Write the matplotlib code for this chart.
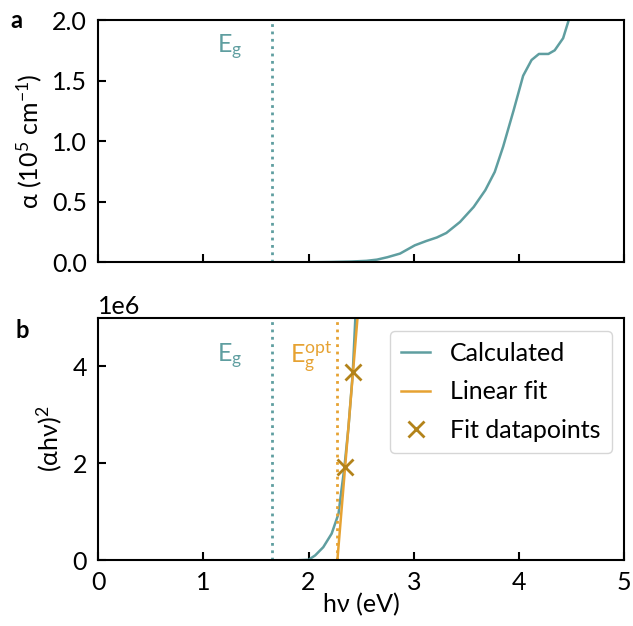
import numpy as np
import matplotlib
matplotlib.use('Agg')
import matplotlib.pyplot as plt

# absorption coefficient (1e5 cm^-1)
energy_a = [2.0, 2.2, 2.4, 2.55, 2.65, 2.75, 2.87, 3.01, 3.12, 3.22, 3.31, 3.44,
            3.57, 3.68, 3.77, 3.85, 3.95, 4.04, 4.12, 4.19, 4.28, 4.34, 4.42,
            4.47, 4.55]
alpha = [0.0, 0.002, 0.006, 0.012, 0.022, 0.042, 0.072, 0.14, 0.176, 0.205,
         0.242, 0.333, 0.457, 0.595, 0.746, 0.955, 1.256, 1.54, 1.67, 1.72,
         1.72, 1.75, 1.85, 1.99, 2.3]

# (alpha h nu)^2
energy_b = [1.9, 2.0, 2.063, 2.14, 2.22, 2.285, 2.31, 2.34, 2.38, 2.42, 2.445, 2.47]
tauc = [0.0, 0.01e6, 0.10e6, 0.27e6, 0.55e6, 0.96e6, 1.4e6, 1.9e6, 2.75e6,
        3.85e6, 5.0e6, 5.8e6]

fit_x = [2.348, 2.423]
fit_y = [1.93e6, 3.89e6]

Eg = 1.654

TEAL = '#5F9EA0'
ORANGE = '#E6A232'
DARKGOLD = '#B3831A'

plt.rcParams['font.family'] = ['Lato', 'DejaVu Sans']
plt.rcParams['mathtext.fontset'] = 'custom'
plt.rcParams['mathtext.rm'] = 'Lato'
plt.rcParams['mathtext.it'] = 'Lato'
plt.rcParams['font.size'] = 18
plt.rcParams['axes.linewidth'] = 1.5
plt.rcParams['xtick.direction'] = 'in'
plt.rcParams['ytick.direction'] = 'in'
plt.rcParams['xtick.major.width'] = 1.5
plt.rcParams['ytick.major.width'] = 1.5
plt.rcParams['xtick.major.size'] = 6
plt.rcParams['ytick.major.size'] = 6
plt.rcParams['xtick.major.pad'] = 8
plt.rcParams['ytick.major.pad'] = 8

fig = plt.figure(figsize=(6.33, 6.26), dpi=100)
ax1 = fig.add_axes([0.155, 0.581, 0.831, 0.387])
ax2 = fig.add_axes([0.155, 0.105, 0.831, 0.387])

# panel a
ax1.plot(energy_a, alpha, color=TEAL, lw=1.8)
ax1.axvline(Eg, color=TEAL, ls=':', lw=2)
ax1.text(1.13, 1.727, r'E$_\mathrm{g}$', color=TEAL, fontsize=18, ha='left', va='baseline')
ax1.set_xlim(0, 5)
ax1.set_ylim(0, 2.0)
ax1.set_yticks([0, 0.5, 1.0, 1.5, 2.0])
ax1.set_xticks([0, 1, 2, 3, 4, 5])
ax1.tick_params(labelbottom=False)
ax1.set_ylabel(r'α (10$^5$ cm$^{-1}$)', labelpad=6)

# panel b
slope, icpt = np.polyfit(fit_x, fit_y, 1)
Eg_opt = -icpt / slope
xline = np.array([Eg_opt, 2.6])

ax2.plot(energy_b, tauc, color=TEAL, lw=1.8, label='Calculated')
ax2.plot(xline, slope * xline + icpt, color=ORANGE, lw=1.8, label='Linear fit')
ax2.plot(fit_x, fit_y, 'x', color=DARKGOLD, ms=12, mew=2, label='Fit datapoints')
ax2.axvline(Eg, color=TEAL, ls=':', lw=2)
ax2.axvline(Eg_opt, color=ORANGE, ls=':', lw=2)
ax2.text(1.13, 4.09e6, r'E$_\mathrm{g}$', color=TEAL, fontsize=18, ha='left', va='baseline')
ax2.text(1.825, 4.09e6, r'E$_\mathrm{g}^\mathrm{opt}$', color=ORANGE, fontsize=18,
         ha='left', va='baseline')
ax2.set_xlim(0, 5)
ax2.set_ylim(0, 5e6)
ax2.set_yticks([0, 2e6, 4e6])
ax2.set_xticks([0, 1, 2, 3, 4, 5])
ax2.set_xlabel('hν (eV)', labelpad=-1)
ax2.set_ylabel(r'(αhν)$^2$', labelpad=6)
ax2.legend(loc='upper right', handlelength=1.15, handletextpad=0.8, fontsize=18,
           edgecolor='#cccccc', borderaxespad=0.5, borderpad=0.45, labelspacing=0.62)

fig.text(0.016, 0.955, 'a', fontsize=17, fontweight='bold')
fig.text(0.025, 0.46, 'b', fontsize=17, fontweight='bold')

fig.savefig('out.png', dpi=100)
